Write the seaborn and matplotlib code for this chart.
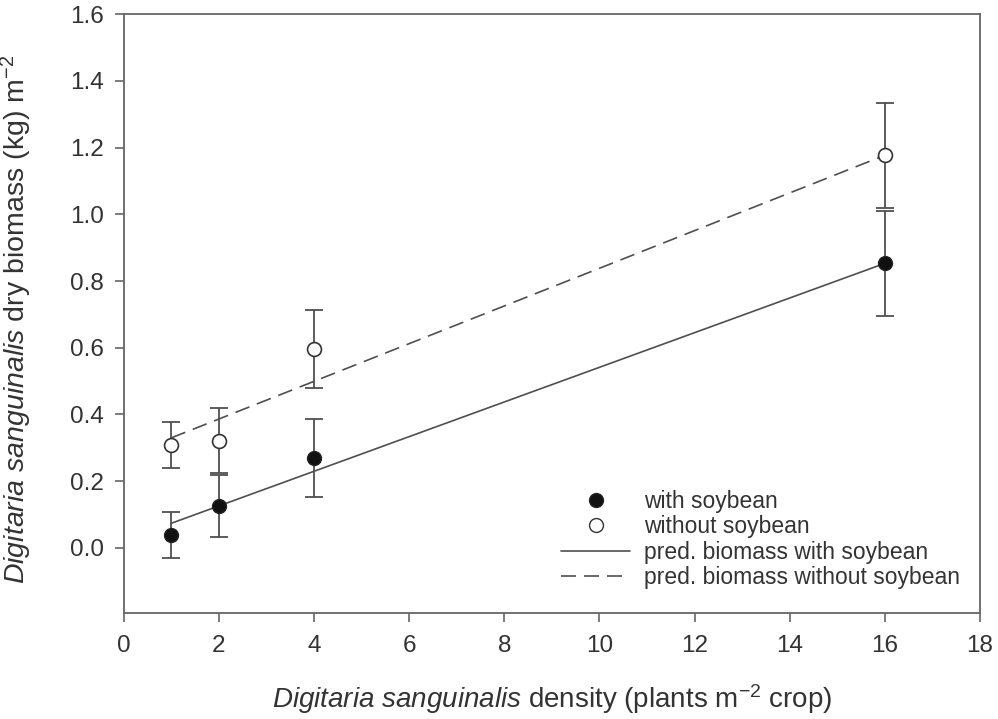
import matplotlib
matplotlib.use("Agg")
import matplotlib.pyplot as plt
from matplotlib.lines import Line2D
import seaborn as sns
import pandas as pd


density = [1, 2, 4, 16]

with_soy = [0.039, 0.126, 0.269, 0.853]
with_soy_err = [0.070, 0.092, 0.116, 0.158]

without_soy = [0.309, 0.321, 0.596, 1.177]
without_soy_err = [0.069, 0.097, 0.117, 0.158]

pred_x = [1, 16]
pred_with = [0.074, 0.853]
pred_without = [0.330, 1.177]

GRAY = "#4f4f4f"
TEXT = "#333333"
DASH = (9, 4.8)

sns.set_theme(style="ticks")
plt.rcParams["font.family"] = ["Liberation Sans", "DejaVu Sans"]
plt.rcParams["mathtext.fontset"] = "custom"
plt.rcParams["mathtext.rm"] = "Liberation Sans"
plt.rcParams["mathtext.it"] = "Liberation Sans:italic"


def main() -> None:
    fig = plt.figure(figsize=(9.98, 7.19), dpi=100)
    ax = fig.add_axes([0.124, 0.1474, 0.858, 0.833])

    lines = pd.DataFrame({
        "x": pred_x * 2,
        "y": pred_with + pred_without,
        "kind": ["with"] * 2 + ["without"] * 2,
    })
    sns.lineplot(
        data=lines, x="x", y="y", style="kind",
        dashes={"with": "", "without": DASH},
        color=GRAY, linewidth=1.2, legend=False, ax=ax,
    )

    ax.errorbar(density, with_soy, yerr=with_soy_err, fmt="none",
                ecolor=GRAY, elinewidth=1.3, capsize=6.5, capthick=1.3, zorder=3)
    ax.errorbar(density, without_soy, yerr=without_soy_err, fmt="none",
                ecolor=GRAY, elinewidth=1.3, capsize=6.5, capthick=1.3, zorder=3)

    pts = pd.DataFrame({
        "x": density * 2,
        "y": with_soy + without_soy,
        "kind": ["with"] * 4 + ["without"] * 4,
    })
    sns.scatterplot(data=pts[pts.kind == "with"], x="x", y="y", s=100,
                    color="#111111", edgecolor="#222222", linewidth=1,
                    legend=False, ax=ax, zorder=4)
    sns.scatterplot(data=pts[pts.kind == "without"], x="x", y="y", s=100,
                    color="white", edgecolor="#333333", linewidth=1.2,
                    legend=False, ax=ax, zorder=4)

    ax.set_xlim(0, 18)
    ax.set_ylim(-0.195, 1.6)
    ax.set_xticks(range(0, 19, 2))
    ax.set_yticks([0.0, 0.2, 0.4, 0.6, 0.8, 1.0, 1.2, 1.4, 1.6])
    ax.set_yticklabels([f"{v:.1f}" for v in ax.get_yticks()])

    for side in ["top", "right", "left", "bottom"]:
        ax.spines[side].set_color("#666666")
        ax.spines[side].set_linewidth(1.3)
    ax.tick_params(direction="out", length=6.5, width=1.2, color="#666666",
                   labelsize=17.5, labelcolor=TEXT)
    ax.tick_params(axis="x", pad=9)
    ax.tick_params(axis="y", pad=8)

    ax.set_xlabel(r"$\mathit{Digitaria\ sanguinalis}$ density (plants m$^{-2}$ crop)",
                  fontsize=20, color=TEXT)
    ax.set_ylabel(r"$\mathit{Digitaria\ sanguinalis}$ dry biomass (kg) m$^{-2}$",
                  fontsize=20.5, color=TEXT)
    ax.xaxis.set_label_coords(0.5, -0.115)
    ax.yaxis.set_label_coords(-0.105, 0.49)

    handles = [
        Line2D([], [], linestyle="none", marker="o", markersize=10,
               markerfacecolor="#111111", markeredgecolor="#222222"),
        Line2D([], [], linestyle="none", marker="o", markersize=10,
               markerfacecolor="white", markeredgecolor="#333333"),
        Line2D([], [], color=GRAY, linewidth=1.2),
        Line2D([], [], color=GRAY, linewidth=1.2, dashes=DASH),
    ]
    labels = [
        "with soybean",
        "without soybean",
        "pred. biomass with soybean",
        "pred. biomass without soybean",
    ]
    leg = ax.legend(handles, labels, loc="lower left", bbox_to_anchor=(0.511, 0.04),
                    frameon=False, fontsize=16.5, handlelength=3.0, handletextpad=0.6,
                    labelspacing=0.1, borderpad=0, borderaxespad=0)
    for t in leg.get_texts():
        t.set_color(TEXT)

    fig.savefig("out.png", dpi=100)


main()
